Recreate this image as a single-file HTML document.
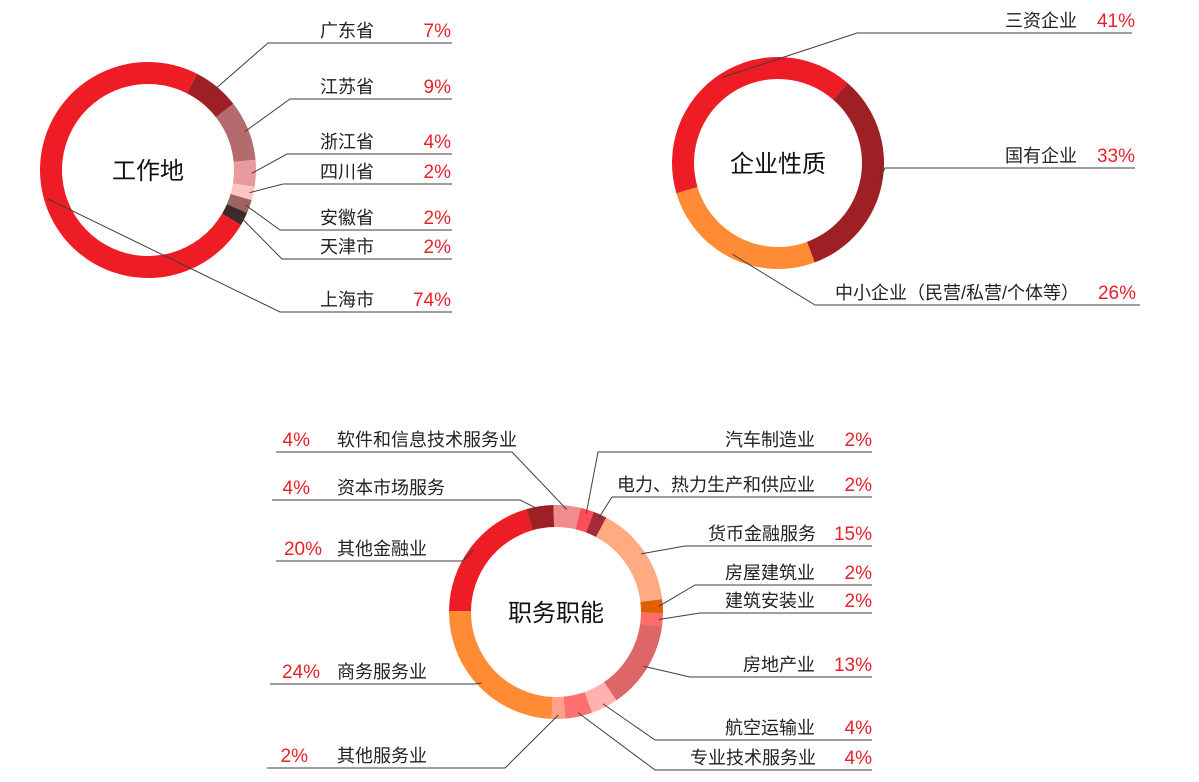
<!DOCTYPE html>
<html><head><meta charset="utf-8"><style>
html,body{margin:0;padding:0;background:#fff;}
svg{display:block;font-family:"Liberation Sans","Noto Sans CJK SC",sans-serif;}
.nm{font-size:18px;fill:#222;}
.pc{font-size:19px;fill:#e8202a;}
.ln{stroke:#4a3a3a;stroke-width:1;fill:none;}
.ttl{font-size:24px;fill:#111;}
</style></head><body>
<svg id="chart" width="1199" height="782" viewBox="0 0 1199 782"></svg>
<script>
// Chart 1: 工作地
const c1Labels=["广东省","江苏省","浙江省","四川省","安徽省","天津市","上海市"];
const c1Values=[7,9,4,2,2,2,74];
const c1Colors=["#9e1f24","#b36b6e","#e89a9c","#ffc4c4","#9e6464","#3f2a2a","#ee1c25"];
// Chart 2: 企业性质
const c2Labels=["国有企业","中小企业（民营/私营/个体等）","三资企业"];
const c2Values=[33,26,41];
const c2Colors=["#9e1f24","#ff8c35","#ee1c25"];
// Chart 3: 职务职能
const c3Labels=["资本市场服务","软件和信息技术服务业","汽车制造业","电力、热力生产和供应业","货币金融服务","房屋建筑业","建筑安装业","房地产业","航空运输业","专业技术服务业","其他服务业","商务服务业","其他金融业"];
const c3Values=[4,4,2,2,15,2,2,13,4,4,2,24,20];
const c3Colors=["#9e1f24","#f28b8e","#ff4d5a","#a82a35","#ffaa80","#e06000","#ff6b6b","#dd6666","#ffb0b0","#ff7070","#ffa08a","#ff8c35","#ee1c25"];

const NS="http://www.w3.org/2000/svg";
const svg=document.getElementById("chart");
function mk(tag,attrs,parent){const e=document.createElementNS(NS,tag);for(const k in attrs)e.setAttribute(k,attrs[k]);(parent||svg).appendChild(e);return e;}
function pt(cx,cy,r,a){const t=a*Math.PI/180;return [cx+r*Math.sin(t),cy-r*Math.cos(t)];}
function arc(cx,cy,ro,ri,a0,a1){
  const L=(a1-a0)>180?1:0;
  const p0=pt(cx,cy,ro,a0),p1=pt(cx,cy,ro,a1),p2=pt(cx,cy,ri,a1),p3=pt(cx,cy,ri,a0);
  return `M${p0[0]},${p0[1]}A${ro},${ro} 0 ${L} 1 ${p1[0]},${p1[1]}L${p2[0]},${p2[1]}A${ri},${ri} 0 ${L} 0 ${p3[0]},${p3[1]}Z`;
}
// layout per chart (positions only)
function donut(cfg,labels,values,colors){
  const g=mk("g",{});
  
  
  const total=values.reduce((a,b)=>a+b,0);
  let a=cfg.start;
  values.forEach((v,i)=>{
    const span=v/total*360;
    const p=mk("path",{d:arc(cfg.cx,cfg.cy,cfg.ro,cfg.ri,a,a+span),fill:colors[i]},g);
    
    
    const mid=a+span/2;
    const s=pt(cfg.cx,cfg.cy,cfg.ro-4,mid);
    const L=cfg.lay[i];
    const pl=mk("polyline",{points:`${s[0]},${s[1]} ${L.ex},${L.y} ${L.x2},${L.y}`,class:"ln"},g);
    
    
    const tn=mk("text",{x:L.nx,y:L.y-6,class:"nm"},g);
    tn.textContent=labels[i];
    
    
    const tp=mk("text",{x:L.px,y:L.y-6,class:"pc","text-anchor":L.pa||"end"},g);
    tp.textContent=v+"%";
    
    
    a+=span;
  });
  const t=mk("text",{x:cfg.cx,y:cfg.cy+9,class:"ttl","text-anchor":"middle"},g);
  t.textContent=cfg.title;
  
  
}
const R={x2:452,nx:320,px:451};
donut({name:"work-location-donut",title:"工作地",cx:148,cy:170,ro:108,ri:86,start:27,
  lay:[{ex:268,y:43,...R},{ex:290,y:99,...R},{ex:287,y:154,...R},{ex:283,y:184,...R},{ex:280,y:230,...R},{ex:282,y:259,...R},{ex:280,y:312,...R}]},
  c1Labels,c1Values,c1Colors);
donut({name:"company-type-donut",title:"企业性质",cx:778,cy:163,ro:106,ri:84,start:41,
  lay:[{ex:885,y:168,x2:1135,nx:1005,px:1135},{ex:815,y:305,x2:1140,nx:835,px:1136},{ex:857,y:33,x2:1132,nx:1005,px:1135}]},
  c2Labels,c2Values,c2Colors);
const RR={x2:872,nx:0,px:872};
donut({name:"job-function-donut",title:"职务职能",cx:556,cy:612,ro:107,ri:85,start:344,
  lay:[
   {ex:520,y:500,x2:272,nx:337,px:310,pa:"end"},
   {ex:512,y:452,x2:276,nx:337,px:310,pa:"end"},
   {ex:598,y:452,x2:872,nx:725,px:872},
   {ex:612,y:497,x2:872,nx:617,px:872},
   {ex:685,y:546,x2:872,nx:708,px:872},
   {ex:695,y:585,x2:872,nx:725,px:872},
   {ex:700,y:613,x2:872,nx:725,px:872},
   {ex:690,y:677,x2:872,nx:743,px:872},
   {ex:655,y:740,x2:872,nx:725,px:872},
   {ex:655,y:770,x2:872,nx:690,px:872},
   {ex:505,y:768,x2:267,nx:337,px:308,pa:"end"},
   {ex:475,y:684,x2:270,nx:337,px:320,pa:"end"},
   {ex:463,y:561,x2:276,nx:337,px:322,pa:"end"}]},
  c3Labels,c3Values,c3Colors);
</script>
</body></html>
